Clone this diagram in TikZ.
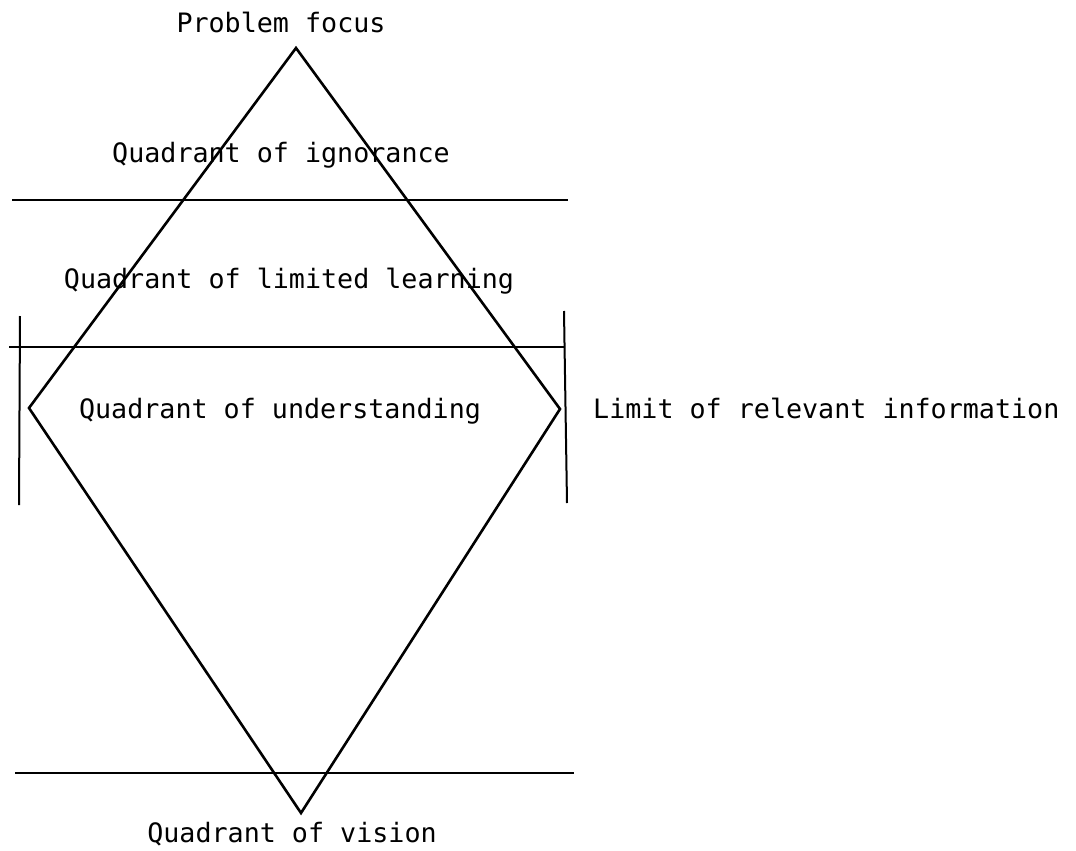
\documentclass[tikz,border=0pt]{standalone}
\usepackage{fontspec}
\newfontfamily\tw{DejaVu Sans Mono}
\begin{document}
\begin{tikzpicture}[x=1pt,y=-1pt,
  lbl/.style={font=\tw\fontsize{26.7}{30}\selectfont, inner sep=0pt, anchor=base},
  shape line/.style={line width=2.6pt, line join=miter},
  rule/.style={line width=2pt}]
\useasboundingbox (0,0) rectangle (1076,851);
% diamond
\coordinate (top) at (296,48);
\coordinate (left) at (29,408);
\coordinate (right) at (560,409);
\coordinate (bottom) at (301,813);
\draw[shape line] (top) -- (right) -- (bottom) -- (left) -- cycle;
% horizontal rules
\coordinate (h1a) at (12,200); \coordinate (h1b) at (568,200);
\coordinate (h2a) at (9,347);  \coordinate (h2b) at (565,347);
\coordinate (h3a) at (15,773); \coordinate (h3b) at (574,773);
\draw[rule] (h1a) -- (h1b);
\draw[rule] (h2a) -- (h2b);
\draw[rule] (h3a) -- (h3b);
% vertical limit bars
\coordinate (v1a) at (20,316); \coordinate (v1b) at (19,505);
\coordinate (v2a) at (564,311); \coordinate (v2b) at (567,503);
\draw[rule] (v1a) -- (v1b);
\draw[rule] (v2a) -- (v2b);
% labels
\node[lbl] (pf) at (281,33) {Problem focus};
\node[lbl] (qi) at (281,162) {Quadrant of ignorance};
\node[lbl] (ql) at (289,288) {Quadrant of limited learning};
\node[lbl] (qu) at (280,418) {Quadrant of understanding};
\node[lbl, anchor=base west] (lr) at (593,418) {Limit of relevant information};
\node[lbl] (qv) at (292,842) {Quadrant of vision};
\end{tikzpicture}
\end{document}
